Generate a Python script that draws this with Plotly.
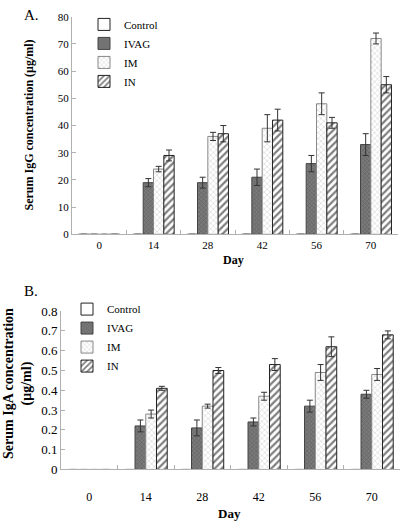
import plotly.graph_objects as go

days = ["0", "14", "28", "42", "56", "70"]
series = ["Control", "IVAG", "IM", "IN"]

igg_control = [0, 0, 0, 0, 0, 0]
igg_ivag = [0, 19, 19, 21, 26, 33]
igg_im = [0, 24, 36, 39, 48, 72]
igg_in = [0, 29, 37, 42, 41, 55]
igg_control_err = [0, 0, 0, 0, 0, 0]
igg_ivag_err = [0, 1.5, 2, 3, 3, 4]
igg_im_err = [0, 1, 1.5, 5, 4, 2]
igg_in_err = [0, 2, 3, 4, 2, 3]

iga_control = [0, 0, 0, 0, 0, 0]
iga_ivag = [0, 0.22, 0.21, 0.24, 0.32, 0.38]
iga_im = [0, 0.28, 0.32, 0.37, 0.49, 0.48]
iga_in = [0, 0.41, 0.50, 0.53, 0.62, 0.68]
iga_control_err = [0, 0, 0, 0, 0, 0]
iga_ivag_err = [0, 0.03, 0.04, 0.02, 0.03, 0.02]
iga_im_err = [0, 0.02, 0.01, 0.02, 0.04, 0.03]
iga_in_err = [0, 0.01, 0.015, 0.03, 0.05, 0.02]

igg_ticks = [0, 10, 20, 30, 40, 50, 60, 70, 80]
iga_ticks = [0, 0.1, 0.2, 0.3, 0.4, 0.5, 0.6, 0.7, 0.8]
iga_ticktext = ["0", "0.1", "0.2", "0.3", "0.4", "0.5", "0.6", "0.7", "0.8"]

FONT = "Times New Roman, Liberation Serif, serif"

styles = {
    "Control": dict(color="white", line=dict(color="#222", width=1)),
    "IVAG": dict(color="#6a6a6a", line=dict(color="#444", width=1),
                 pattern=dict(shape="x", fgcolor="#3c3c3c", bgcolor="#7a7a7a", size=3, solidity=0.3)),
    "IM": dict(color="white", line=dict(color="#888", width=1),
               pattern=dict(shape="x", fgcolor="#9a9a9a", bgcolor="white", size=4, solidity=0.25)),
    "IN": dict(color="white", line=dict(color="#222", width=1),
               pattern=dict(shape="/", fgcolor="black", bgcolor="white", size=5, solidity=0.45)),
}

fig = go.Figure()

igg_vals = [igg_control, igg_ivag, igg_im, igg_in]
igg_errs = [igg_control_err, igg_ivag_err, igg_im_err, igg_in_err]
iga_vals = [iga_control, iga_ivag, iga_im, iga_in]
iga_errs = [iga_control_err, iga_ivag_err, iga_im_err, iga_in_err]

for name, v, e in zip(series, igg_vals, igg_errs):
    fig.add_trace(go.Bar(
        x=days, y=v, name=name, marker=styles[name], legend="legend",
        error_y=dict(type="data", array=e, color="#333", thickness=1, width=3, visible=True),
        xaxis="x", yaxis="y",
    ))
for name, v, e in zip(series, iga_vals, iga_errs):
    fig.add_trace(go.Bar(
        x=days, y=v, name=name, marker=styles[name], legend="legend2",
        error_y=dict(type="data", array=e, color="#333", thickness=1, width=3, visible=True),
        xaxis="x2", yaxis="y2",
    ))

axis_common = dict(showgrid=False, zeroline=False, showline=True, linecolor="#b0b0b0",
                   linewidth=1, ticks="inside", tickcolor="#b0b0b0", ticklen=4)

fig.update_layout(
    width=400, height=528,
    margin=dict(l=0, r=0, t=0, b=0),
    paper_bgcolor="white", plot_bgcolor="white",
    barmode="group", bargap=0.24, bargroupgap=0,
    font=dict(family=FONT, color="black", size=11),
    xaxis=dict(domain=[0.18, 0.995], anchor="y", type="category", range=[-0.5, 5.5],
               tickson="boundaries", tickfont=dict(size=11, family=FONT), **axis_common),
    yaxis=dict(domain=[1 - 234 / 528, 1 - 10 / 528], anchor="x", range=[0, 80],
               tickvals=igg_ticks, tickfont=dict(size=11, family=FONT), **axis_common),
    xaxis2=dict(domain=[0.1525, 1.0], anchor="y2", type="category", range=[-0.5, 5.5],
                tickson="boundaries", ticklabelstandoff=16,
                tickfont=dict(size=12, family=FONT), **axis_common),
    yaxis2=dict(domain=[1 - 476 / 528, 1 - 313 / 528], anchor="x2", range=[0, 0.8],
                tickvals=iga_ticks, ticktext=iga_ticktext,
                tickfont=dict(size=13, family=FONT), **axis_common),
    legend=dict(x=84 / 400, y=1 - 3 / 528, xanchor="left", yanchor="top",
                bgcolor="rgba(0,0,0,0)", font=dict(size=11, family=FONT),
                tracegroupgap=0, itemwidth=30),
    legend2=dict(x=67 / 400, y=1 - 296 / 528, xanchor="left", yanchor="top",
                 bgcolor="rgba(0,0,0,0)", font=dict(size=11, family=FONT),
                 tracegroupgap=0, itemwidth=30),
    showlegend=True,
)

annotations = [
    dict(text="A.", x=22 / 400, y=1 - 8 / 528, xref="paper", yref="paper",
         xanchor="left", yanchor="middle", showarrow=False, font=dict(size=15, family=FONT)),
    dict(text="B.", x=22 / 400, y=1 - 292 / 528, xref="paper", yref="paper",
         xanchor="left", yanchor="middle", showarrow=False, font=dict(size=15, family=FONT)),
    dict(text="<b>Serum IgG concentration (μg/ml)</b>", x=29 / 400, y=1 - 122 / 528,
         xref="paper", yref="paper", textangle=-90, showarrow=False,
         xanchor="center", yanchor="middle", font=dict(size=12, family=FONT)),
    dict(text="<b>Serum IgA concentration</b><br><b>(μg/ml)</b>", x=18 / 400, y=1 - 388 / 528,
         xref="paper", yref="paper", textangle=-90, showarrow=False,
         xanchor="center", yanchor="middle", font=dict(size=14, family=FONT)),
    dict(text="<b>Day</b>", x=233 / 400, y=1 - 260 / 528, xref="paper", yref="paper",
         showarrow=False, xanchor="center", yanchor="middle", font=dict(size=12, family=FONT)),
    dict(text="<b>Day</b>", x=230 / 400, y=1 - 521 / 528, xref="paper", yref="paper",
         showarrow=False, xanchor="center", yanchor="middle", font=dict(size=13, family=FONT)),
]
fig.update_layout(annotations=annotations)

fig.write_html("out.html", post_script="document.body.style.margin='0';",
               config={"displayModeBar": False})
